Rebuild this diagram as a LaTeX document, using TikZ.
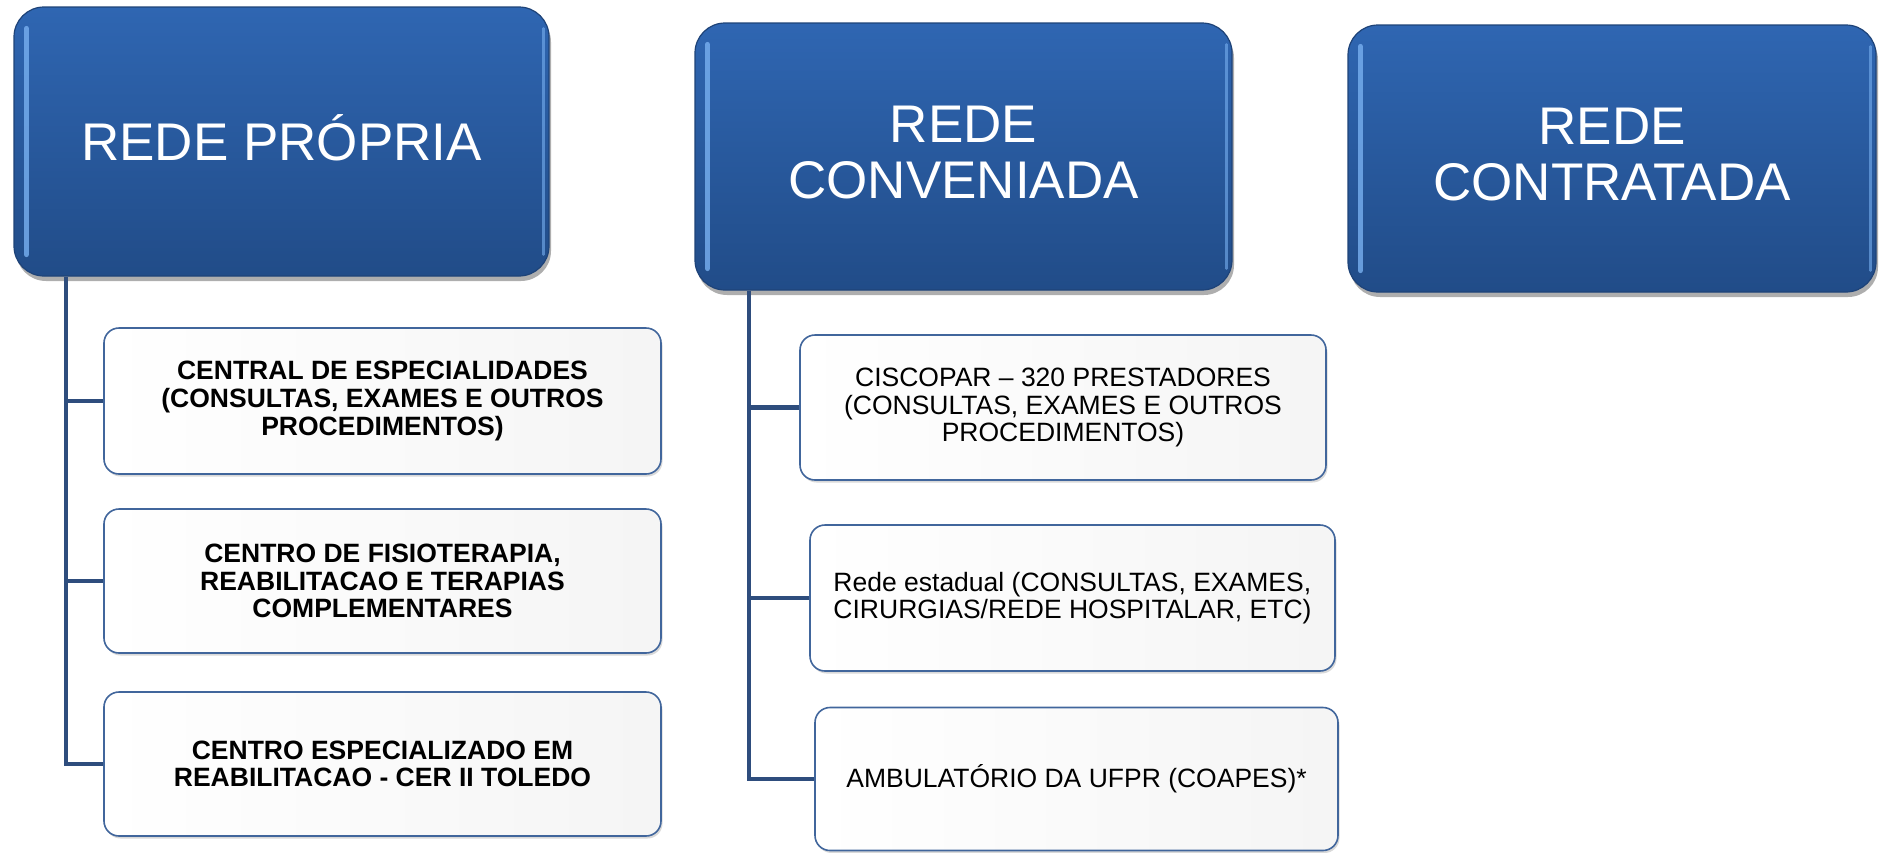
\documentclass[tikz,border=0pt]{standalone}
\usepackage{fontspec}
\setmainfont{Liberation Sans}
\usetikzlibrary{shadows}
\definecolor{htop}{HTML}{2F66B2}
\definecolor{hbot}{HTML}{214C88}
\definecolor{hedge}{HTML}{1E4378}
\definecolor{hlight}{HTML}{78B0F0}
\definecolor{cedge}{HTML}{41669C}
\definecolor{conncol}{HTML}{2E4D7D}
\tikzset{
  headbox/.style={rounded corners=30pt, draw=hedge, line width=1.2pt,
    top color=htop, bottom color=hbot, text=white, align=center,
    font=\fontsize{53}{56}\selectfont, text depth=8pt,
    drop shadow={shadow xshift=2pt, shadow yshift=-5pt, opacity=0.45, fill=black!70}},
  childbox/.style={rounded corners=15pt, draw=cedge, line width=1.6pt,
    left color=white, right color=black!4, text=black, align=center,
    font=\fontsize{26.5}{27.6}\selectfont,
    drop shadow={shadow xshift=1.5pt, shadow yshift=-2.5pt, opacity=0.25, fill=black!60}},
  conn/.style={draw=conncol, line width=4.5pt},
  gloss/.style={line width=5pt, draw=hlight, line cap=round, opacity=0.8},
  glossr/.style={line width=2.5pt, draw=hlight, line cap=round, opacity=0.6}
}
\begin{document}
\begin{tikzpicture}[x=1pt,y=-1pt]
\useasboundingbox (0,0) rectangle (1879,852);

\coordinate (t1) at (66,0);
\coordinate (t2) at (749,0);

% heading boxes
\node[headbox, minimum width=535pt, minimum height=269pt] (h1) at (281.5,141.5) {REDE PRÓPRIA};
\node[headbox, minimum width=537pt, minimum height=267pt] (h2) at (963.5,156.5) {REDE\\CONVENIADA};
\node[headbox, minimum width=528pt, minimum height=267pt] (h3) at (1612,158.5) {REDE\\CONTRATADA};

\foreach \h in {h1,h2,h3}{
  \draw[gloss] ([xshift=13pt,yshift=-22pt]\h.north west) -- ([xshift=13pt,yshift=22pt]\h.south west);
  \draw[glossr] ([xshift=-6pt,yshift=-22pt]\h.north east) -- ([xshift=-6pt,yshift=22pt]\h.south east);
}

% child boxes, left column
\node[childbox, font=\fontsize{26.5}{27.6}\selectfont\bfseries, minimum width=557pt, minimum height=146pt] (c1) at (382.5,401) {CENTRAL DE ESPECIALIDADES\\(CONSULTAS, EXAMES E OUTROS\\PROCEDIMENTOS)};
\node[childbox, font=\fontsize{26.5}{27.6}\selectfont\bfseries, minimum width=557pt, minimum height=144pt] (c2) at (382.5,581) {CENTRO DE FISIOTERAPIA,\\REABILITACAO E TERAPIAS\\COMPLEMENTARES};
\node[childbox, font=\fontsize{26.5}{27.6}\selectfont\bfseries, minimum width=557pt, minimum height=144pt] (c3) at (382.5,764) {CENTRO ESPECIALIZADO EM\\REABILITACAO - CER II TOLEDO};

% child boxes, middle column
\node[childbox, minimum width=526pt, minimum height=145pt] (d1) at (1063,407.5) {CISCOPAR – 320 PRESTADORES\\(CONSULTAS, EXAMES E OUTROS\\PROCEDIMENTOS)};
\node[childbox, align=left, minimum width=525pt, minimum height=146pt] (d2) at (1072.5,598) {Rede estadual (CONSULTAS, EXAMES,\\CIRURGIAS/REDE HOSPITALAR, ETC)};
\node[childbox, minimum width=523pt, minimum height=143pt] (d3) at (1076.5,779) {AMBULATÓRIO DA UFPR (COAPES)*};

% connectors
\draw[conn] (t1 |- h1.south) -- (t1 |- c3.west) -- (c3.west);
\draw[conn] (t1 |- c1.west) -- (c1.west);
\draw[conn] (t1 |- c2.west) -- (c2.west);
\draw[conn] (t2 |- h2.south) -- (t2 |- d3.west) -- (d3.west);
\draw[conn] (t2 |- d1.west) -- (d1.west);
\draw[conn] (t2 |- d2.west) -- (d2.west);
\end{tikzpicture}
\end{document}
